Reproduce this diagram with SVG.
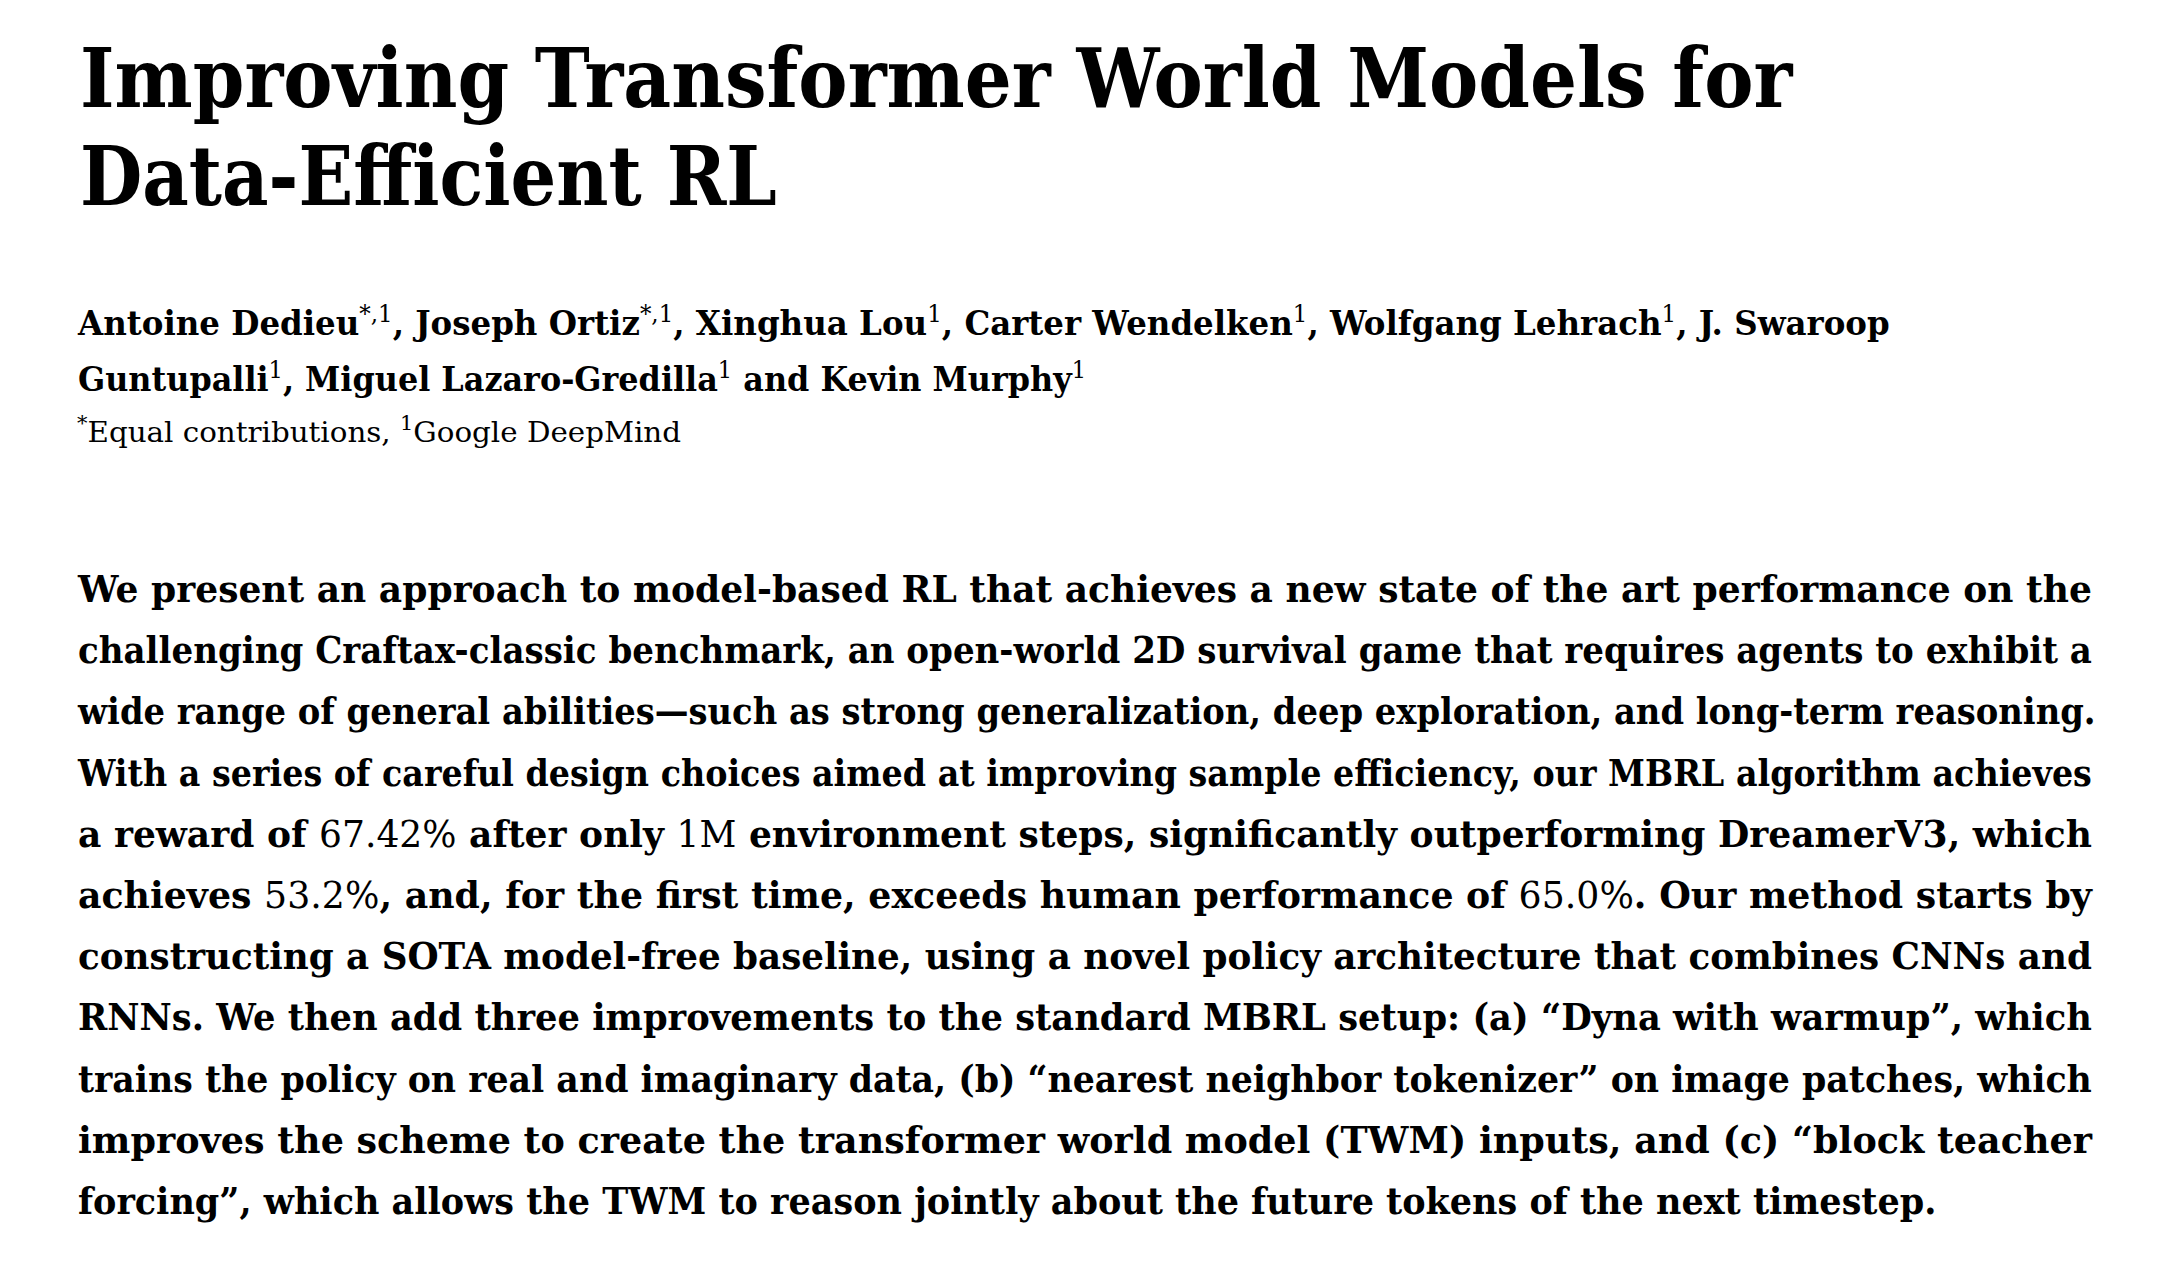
<svg xmlns="http://www.w3.org/2000/svg" width="2176" height="1270" viewBox="0 0 2176 1270">
<style>
.t{font-family:"DejaVu Serif","Liberation Serif",serif;font-weight:bold;font-size:82px;fill:#000}
.au{font-family:"DejaVu Serif","Liberation Serif",serif;font-weight:bold;font-size:34px;fill:#000}
.af{font-family:"DejaVu Serif","Liberation Serif",serif;font-weight:normal;font-size:28px;fill:#000}
.ab{font-family:"DejaVu Serif","Liberation Serif",serif;font-weight:bold;font-size:37px;fill:#000}
.sup{font-weight:normal;font-size:24px}
.n{font-weight:normal}
</style>
<rect x="0" y="0" width="2176" height="1270" fill="#fff"/>
<g id="title">
<text class="t" transform="translate(80,107) scale(0.89,1)" x="0" y="0" textLength="1924" lengthAdjust="spacingAndGlyphs">Improving Transformer World Models for</text>
<text class="t" transform="translate(80,205) scale(0.89,1)" x="0" y="0" textLength="783" lengthAdjust="spacingAndGlyphs">Data-Efficient RL</text>
</g>
<g id="authors">
<text class="au" transform="translate(78,335) scale(0.9,1)" x="0" y="0" textLength="2013" lengthAdjust="spacingAndGlyphs">Antoine Dedieu<tspan class="sup" dy="-13">*,1</tspan><tspan dy="13">, Joseph Ortiz</tspan><tspan class="sup" dy="-13">*,1</tspan><tspan dy="13">, Xinghua Lou</tspan><tspan class="sup" dy="-13">1</tspan><tspan dy="13">, Carter Wendelken</tspan><tspan class="sup" dy="-13">1</tspan><tspan dy="13">, Wolfgang Lehrach</tspan><tspan class="sup" dy="-13">1</tspan><tspan dy="13">, J. Swaroop</tspan></text>
<text class="au" transform="translate(78,391) scale(0.9,1)" x="0" y="0" textLength="1120" lengthAdjust="spacingAndGlyphs">Guntupalli<tspan class="sup" dy="-13">1</tspan><tspan dy="13">, Miguel Lazaro-Gredilla</tspan><tspan class="sup" dy="-13">1</tspan><tspan dy="13"> and Kevin Murphy</tspan><tspan class="sup" dy="-13">1</tspan></text>
</g>
<g id="affiliation">
<text class="af" x="77" y="442" textLength="604" lengthAdjust="spacingAndGlyphs"><tspan font-size="20" dy="-12">*</tspan><tspan dy="12">Equal contributions, </tspan><tspan font-size="20" dy="-12">1</tspan><tspan dy="12">Google DeepMind</tspan></text>
</g>
<g id="abstract">
<text class="ab" transform="translate(78,602) scale(0.92,1)" x="0" y="0" textLength="2189" lengthAdjust="spacingAndGlyphs">We present an approach to model-based RL that achieves a new state of the art performance on the</text>
<text class="ab" transform="translate(78,663) scale(0.92,1)" x="0" y="0" textLength="2189" lengthAdjust="spacingAndGlyphs">challenging Craftax-classic benchmark, an open-world 2D survival game that requires agents to exhibit a</text>
<text class="ab" transform="translate(78,724) scale(0.92,1)" x="0" y="0" textLength="2193" lengthAdjust="spacingAndGlyphs">wide range of general abilities—such as strong generalization, deep exploration, and long-term reasoning.</text>
<text class="ab" transform="translate(78,786) scale(0.92,1)" x="0" y="0" textLength="2189" lengthAdjust="spacingAndGlyphs">With a series of careful design choices aimed at improving sample efficiency, our MBRL algorithm achieves</text>
<text class="ab" transform="translate(78,847) scale(0.92,1)" x="0" y="0" textLength="2189" lengthAdjust="spacingAndGlyphs">a reward of <tspan class="n">67.42%</tspan> after only <tspan class="n">1M</tspan> environment steps, significantly outperforming DreamerV3, which</text>
<text class="ab" transform="translate(78,908) scale(0.92,1)" x="0" y="0" textLength="2189" lengthAdjust="spacingAndGlyphs">achieves <tspan class="n">53.2%</tspan>, and, for the first time, exceeds human performance of <tspan class="n">65.0%</tspan>. Our method starts by</text>
<text class="ab" transform="translate(78,969) scale(0.92,1)" x="0" y="0" textLength="2189" lengthAdjust="spacingAndGlyphs">constructing a SOTA model-free baseline, using a novel policy architecture that combines CNNs and</text>
<text class="ab" transform="translate(78,1030) scale(0.92,1)" x="0" y="0" textLength="2189" lengthAdjust="spacingAndGlyphs">RNNs. We then add three improvements to the standard MBRL setup: (a) “Dyna with warmup”, which</text>
<text class="ab" transform="translate(78,1092) scale(0.92,1)" x="0" y="0" textLength="2189" lengthAdjust="spacingAndGlyphs">trains the policy on real and imaginary data, (b) “nearest neighbor tokenizer” on image patches, which</text>
<text class="ab" transform="translate(78,1153) scale(0.92,1)" x="0" y="0" textLength="2189" lengthAdjust="spacingAndGlyphs">improves the scheme to create the transformer world model (TWM) inputs, and (c) “block teacher</text>
<text class="ab" transform="translate(78,1214) scale(0.92,1)" x="0" y="0" textLength="2020" lengthAdjust="spacingAndGlyphs">forcing”, which allows the TWM to reason jointly about the future tokens of the next timestep.</text>
</g>
</svg>
